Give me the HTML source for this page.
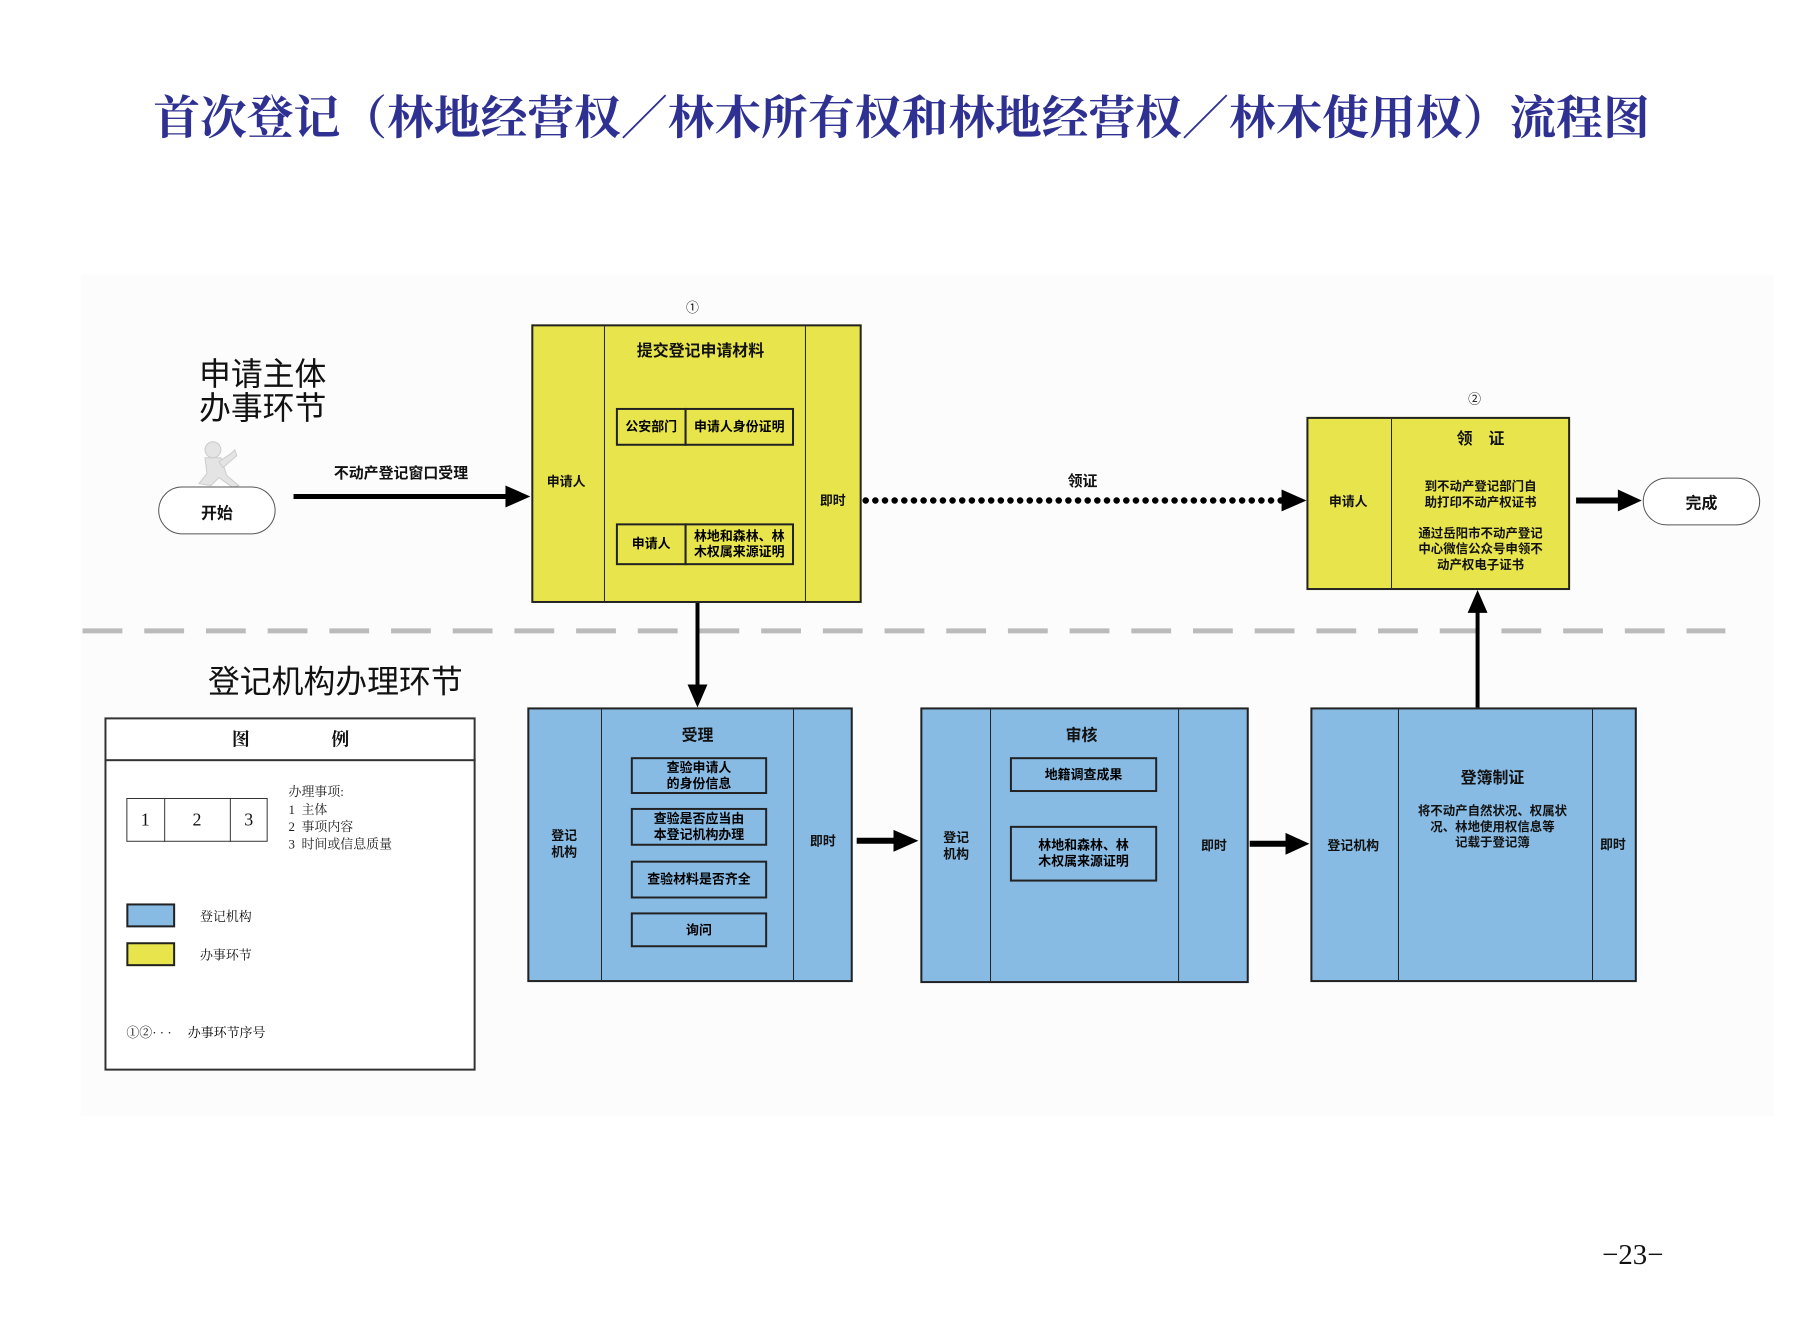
<!DOCTYPE html>
<html><head><meta charset="utf-8">
<style>
body{margin:0;width:1795px;height:1323px;background:#fff;position:relative;overflow:hidden;font-family:"Liberation Sans","Noto Sans CJK SC",sans-serif;}
#w{position:absolute;left:0;top:0;width:1795px;height:1323px;transform:scale(0.995);transform-origin:0 0;}
.a{position:absolute;}
.t{position:absolute;white-space:nowrap;transform:translate(-50%,-50%);color:#111;}
.box{position:absolute;border:2px solid #222;box-sizing:border-box;}
.y{background:#e8e54c;}
.b{background:#88bbe4;}
.vl{position:absolute;top:0;bottom:0;border-left:1.5px solid #222;}
.sb{position:absolute;border:2px solid #222;box-sizing:border-box;display:flex;align-items:center;justify-content:center;text-align:center;font-size:13px;font-weight:bold;line-height:16px;}
.bd{font-weight:bold;}
</style></head><body>
<div id="w">
<div class="a" style="left:81px;top:276px;width:1702px;height:846px;background:#fcfcfc;"></div>

<div class="t" style="left:906px;top:115px;font-family:'Liberation Serif','Noto Serif CJK SC',serif;font-weight:bold;font-size:47px;color:#2e3192;">首次登记（林地经营权／林木所有权和林地经营权／林木使用权）流程图</div>

<svg class="a" style="left:0;top:0" width="1795" height="1323">
<line x1="83" y1="634" x2="1734" y2="634" stroke="#bbb" stroke-width="5" stroke-dasharray="40,22"/>
<line x1="295" y1="499" x2="510" y2="499" stroke="#000" stroke-width="5"/>
<polygon points="508,488 533,499 508,510" fill="#000"/>
<line x1="870" y1="503" x2="1290" y2="503" stroke="#000" stroke-width="6.5" stroke-dasharray="0.1,9.6" stroke-linecap="round"/>
<polygon points="1288,492 1313,503 1288,514" fill="#000"/>
<line x1="1584" y1="503" x2="1628" y2="503" stroke="#000" stroke-width="6"/>
<polygon points="1626,492 1650,503 1626,514" fill="#000"/>
<line x1="701" y1="606" x2="701" y2="690" stroke="#000" stroke-width="4"/>
<polygon points="691,688 701,711 711,688" fill="#000"/>
<line x1="861" y1="845" x2="900" y2="845" stroke="#000" stroke-width="6"/>
<polygon points="898,834 923,845 898,856" fill="#000"/>
<line x1="1256" y1="848" x2="1294" y2="848" stroke="#000" stroke-width="6"/>
<polygon points="1292,837 1316,848 1292,859" fill="#000"/>
<line x1="1485" y1="711" x2="1485" y2="614" stroke="#000" stroke-width="4"/>
<polygon points="1475,616 1485,593 1495,616" fill="#000"/>
<g fill="#e4e4e4" stroke="#cccccc" stroke-width="1">
<circle cx="214" cy="452" r="8"/>
<path d="M206 460 L222 460 L228 478 L240 488 L234 490 L220 480 L212 488 L200 486 L208 476 Z"/>
<path d="M220 464 L232 456 L236 452 L238 458 L224 470 Z"/>
</g>
</svg>

<div class="t" style="left:264px;top:374px;font-size:32px;">申请主体</div>
<div class="t" style="left:264px;top:408px;font-size:32px;">办事环节</div>
<div class="t" style="left:337px;top:683px;font-size:32px;">登记机构办理环节</div>

<div class="a" style="left:159px;top:489px;width:118px;height:48px;border:1.5px solid #555;border-radius:24px;box-sizing:border-box;background:#fff;"></div>
<div class="t bd" style="left:218px;top:514px;font-size:16px;">开始</div>
<div class="t bd" style="left:403px;top:475px;font-size:15px;">不动产登记窗口受理</div>

<div class="t" style="left:696px;top:308px;font-size:13px;">①</div>
<div class="box y" style="left:534px;top:326px;width:332px;height:280px;">
 <div class="vl" style="left:71px"></div><div class="vl" style="left:273px"></div>
</div>
<div class="t bd" style="left:704px;top:351px;font-size:16px;">提交登记申请材料</div>
<div class="sb" style="left:619px;top:410px;width:71px;height:38px;">公安部门</div>
<div class="sb" style="left:688px;top:410px;width:110px;height:38px;">申请人身份证明</div>
<div class="sb" style="left:619px;top:526px;width:71px;height:42px;">申请人</div>
<div class="sb" style="left:688px;top:526px;width:110px;height:42px;">林地和森林、林<br>木权属来源证明</div>
<div class="t bd" style="left:569px;top:483px;font-size:13px;">申请人</div>
<div class="t bd" style="left:837px;top:502px;font-size:13px;">即时</div>
<div class="t bd" style="left:1088px;top:483px;font-size:15px;">领证</div>

<div class="t" style="left:1482px;top:400px;font-size:13px;">②</div>
<div class="box y" style="left:1313px;top:419px;width:265px;height:174px;">
 <div class="vl" style="left:83px"></div>
</div>
<div class="t bd" style="left:1488px;top:439px;font-size:16px;">领　证</div>
<div class="t bd" style="left:1355px;top:503px;font-size:13px;">申请人</div>
<div class="t bd" style="left:1488px;top:497px;font-size:12.5px;line-height:16px;text-align:center;">到不动产登记部门自<br>助打印不动产权证书</div>
<div class="t bd" style="left:1488px;top:552px;font-size:12.5px;line-height:16px;text-align:center;">通过岳阳市不动产登记<br>中心微信公众号申领不<br>动产权电子证书</div>
<div class="a" style="left:1651px;top:480px;width:118px;height:48px;border:1.5px solid #555;border-radius:24px;box-sizing:border-box;background:#fff;"></div>
<div class="t bd" style="left:1710px;top:504px;font-size:16px;">完成</div>

<div class="box b" style="left:530px;top:711px;width:327px;height:276px;">
 <div class="vl" style="left:72px"></div><div class="vl" style="left:265px"></div>
</div>
<div class="t bd" style="left:701px;top:737px;font-size:16px;">受理</div>
<div class="sb" style="left:634px;top:761px;width:137px;height:37px;">查验申请人<br>的身份信息</div>
<div class="sb" style="left:634px;top:812px;width:137px;height:38px;">查验是否应当由<br>本登记机构办理</div>
<div class="sb" style="left:634px;top:865px;width:137px;height:38px;">查验材料是否齐全</div>
<div class="sb" style="left:634px;top:917px;width:137px;height:35px;">询问</div>
<div class="t bd" style="left:567px;top:848px;font-size:13px;line-height:17px;text-align:center;">登记<br>机构</div>
<div class="t bd" style="left:827px;top:844px;font-size:13px;">即时</div>

<div class="box b" style="left:925px;top:711px;width:330px;height:277px;">
 <div class="vl" style="left:68px"></div><div class="vl" style="left:257px"></div>
</div>
<div class="t bd" style="left:1087px;top:737px;font-size:16px;">审核</div>
<div class="sb" style="left:1015px;top:761px;width:148px;height:35px;">地籍调查成果</div>
<div class="sb" style="left:1015px;top:830px;width:148px;height:56px;">林地和森林、林<br>木权属来源证明</div>
<div class="t bd" style="left:961px;top:850px;font-size:13px;line-height:17px;text-align:center;">登记<br>机构</div>
<div class="t bd" style="left:1220px;top:849px;font-size:13px;">即时</div>

<div class="box b" style="left:1317px;top:711px;width:328px;height:276px;">
 <div class="vl" style="left:86px"></div><div class="vl" style="left:281px"></div>
</div>
<div class="t bd" style="left:1500px;top:780px;font-size:16px;">登簿制证</div>
<div class="t bd" style="left:1500px;top:831px;font-size:12.5px;line-height:16px;text-align:center;">将不动产自然状况、权属状<br>况、林地使用权信息等<br>记载于登记簿</div>
<div class="t bd" style="left:1360px;top:849px;font-size:13px;">登记机构</div>
<div class="t bd" style="left:1621px;top:848px;font-size:13px;">即时</div>

<div class="a" style="left:105px;top:721px;width:373px;height:355px;border:2px solid #333;box-sizing:border-box;background:#fff;"></div>
<div class="a" style="left:105px;top:763px;width:373px;border-top:2px solid #333;"></div>
<div class="t bd" style="left:242px;top:742px;font-size:18px;font-family:'Liberation Serif','Noto Serif CJK SC',serif;">图</div>
<div class="t bd" style="left:342px;top:742px;font-size:18px;font-family:'Liberation Serif','Noto Serif CJK SC',serif;">例</div>
<div class="a" style="left:127px;top:802px;width:142px;height:44px;border:1.5px solid #333;box-sizing:border-box;"></div>
<div class="a" style="left:165px;top:802px;height:44px;border-left:1.5px solid #333;"></div>
<div class="a" style="left:231px;top:802px;height:44px;border-left:1.5px solid #333;"></div>
<div class="t" style="left:146px;top:824px;font-size:18px;font-family:'Liberation Serif',serif;">1</div>
<div class="t" style="left:198px;top:824px;font-size:18px;font-family:'Liberation Serif',serif;">2</div>
<div class="t" style="left:250px;top:824px;font-size:18px;font-family:'Liberation Serif',serif;">3</div>
<div class="a" style="left:290px;top:787px;font-size:13px;line-height:17.5px;font-family:'Liberation Serif','Noto Serif CJK SC',serif;color:#222;">办理事项:<br>1&nbsp;&nbsp;主体<br>2&nbsp;&nbsp;事项内容<br>3&nbsp;&nbsp;时间或信息质量</div>
<div class="a" style="left:127px;top:908px;width:49px;height:24px;background:#88bbe4;border:2px solid #222;box-sizing:border-box;"></div>
<div class="a" style="left:127px;top:947px;width:49px;height:24px;background:#e8e54c;border:2px solid #222;box-sizing:border-box;"></div>
<div class="t" style="left:227px;top:920px;font-size:13px;font-family:'Liberation Serif','Noto Serif CJK SC',serif;">登记机构</div>
<div class="t" style="left:227px;top:959px;font-size:13px;font-family:'Liberation Serif','Noto Serif CJK SC',serif;">办事环节</div>
<div class="a" style="left:127px;top:1027px;font-size:13px;font-family:'Liberation Serif','Noto Serif CJK SC',serif;">①②·&nbsp;·&nbsp;·&nbsp;&nbsp;&nbsp;&nbsp;&nbsp;办事环节序号</div>

<div class="t" style="left:1641px;top:1262px;font-size:29px;font-family:'Liberation Serif',serif;">−23−</div>
</div>
</body></html>
